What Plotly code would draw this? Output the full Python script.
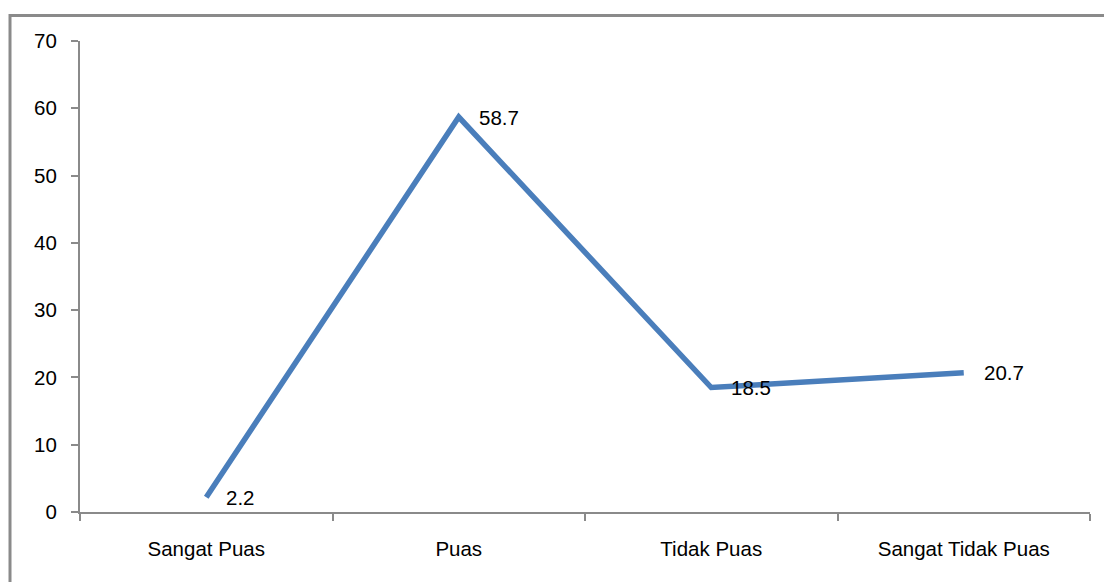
import plotly.graph_objects as go

categories = ["Sangat Puas", "Puas", "Tidak Puas", "Sangat Tidak Puas"]
values = [2.2, 58.7, 18.5, 20.7]
y_ticks = [0, 10, 20, 30, 40, 50, 60, 70]

line_color = "#4a7ebb"
axis_color = "#8a8a8a"
font_family = "Liberation Sans, Arial, sans-serif"

fig = go.Figure()
fig.add_trace(go.Scatter(
    x=categories, y=values, mode="lines",
    line=dict(color=line_color, width=5.5),
    hoverinfo="skip", showlegend=False,
))

# value labels to the right of each point
for cat, val in zip(categories, values):
    fig.add_annotation(
        x=cat, y=val, text=f"{val}", showarrow=False,
        xanchor="left", yanchor="middle", xshift=18,
        font=dict(family=font_family, size=20.5, color="#000000"),
    )

# outer chart frame
fig.add_shape(
    type="rect", xref="paper", yref="paper",
    x0=-0.0693, x1=1.06, y0=-0.25, y1=1.0541,
    line=dict(color=axis_color, width=3), layer="below",
)

fig.update_xaxes(
    type="category", range=[-0.5, 3.5],
    showline=True, linecolor=axis_color, linewidth=2,
    ticks="outside", tickson="boundaries", ticklen=7, tickwidth=2,
    tickcolor=axis_color, showgrid=False, zeroline=False,
    tickfont=dict(family=font_family, size=20.5, color="#000000"),
    ticklabelstandoff=17,
)
fig.update_yaxes(
    range=[0, 70], tickvals=y_ticks,
    showline=True, linecolor=axis_color, linewidth=2,
    ticks="outside", ticklen=7, tickwidth=2, tickcolor=axis_color,
    showgrid=False, zeroline=False,
    tickfont=dict(family=font_family, size=20.5, color="#000000"),
    ticklabelstandoff=10,
)

fig.update_layout(
    width=1104, height=582,
    margin=dict(l=80, r=14, t=41, b=70),
    paper_bgcolor="white", plot_bgcolor="white",
)

fig.write_html("out.html")
